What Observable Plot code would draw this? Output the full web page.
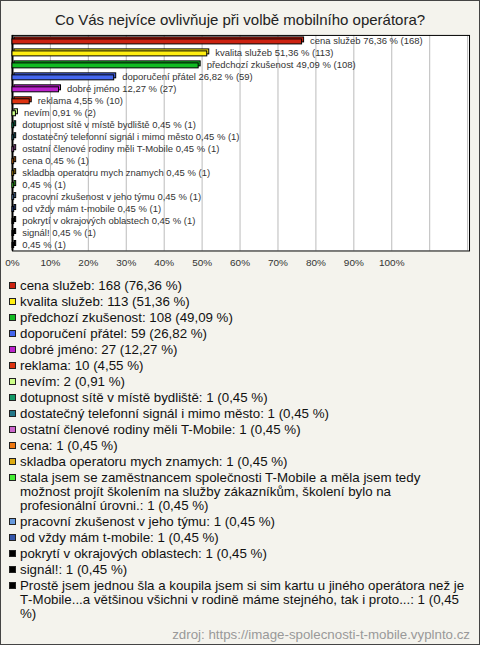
<!DOCTYPE html>
<html>
<head>
<meta charset="utf-8">
<script src="https://cdn.jsdelivr.net/npm/d3@7"></script>
<script src="https://cdn.jsdelivr.net/npm/@observablehq/plot@0.6"></script>
<style>
  html, body { margin: 0; padding: 0; background: #fff; }
  #card { position: relative; width: 478px; height: 643px; border: 1px solid #444; background: #f4f3ed;
          font-family: "Liberation Sans", Arial, sans-serif; color: #111; overflow: hidden; }
  #title { position: absolute; left: -1px; top: 10px; width: 480px; text-align: center; font-size: 15px; color: #222; }
  #chart { position: absolute; left: -1px; top: -1px; }
  #legend { position: absolute; left: 8px; top: 278px; width: 461px; font-size: 13.3px; line-height: 14px; }
  .item { display: flex; align-items: flex-start; margin-bottom: 2px; }
  .sw { flex: none; width: 5px; height: 5px; border: 1px solid #222; margin-top: 3px; margin-right: 4px; }
  #source { position: absolute; right: 9px; top: 626px; font-size: 13.3px; color: #999; }
</style>
</head>
<body>
<div id="card">
  <div id="chart"></div>
  <div id="title">Co Vás nejvíce ovlivňuje při volbě mobilního operátora?</div>
  <div id="legend"></div>
  <div id="source">zdroj: https://image-spolecnosti-t-mobile.vyplnto.cz</div>
</div>
<script>
// ---- data ----
const labels = [
  "cena služeb", "kvalita služeb", "předchozí zkušenost", "doporučení přátel", "dobré jméno",
  "reklama", "nevím", "dotupnost sítě v místě bydliště", "dostatečný telefonní signál i mimo město",
  "ostatní členové rodiny měli T-Mobile", "cena", "skladba operatoru mych znamych",
  "stala jsem se zaměstnancem společnosti T-Mobile a měla jsem tedy možnost projít školením na služby zákazníkům, školení bylo na profesionální úrovni.",
  "pracovní zkušenost v jeho týmu", "od vždy mám t-mobile", "pokrytí v okrajových oblastech", "signál!",
  "Prostě jsem jednou šla a koupila jsem si sim kartu u jiného operátora než je T\u2011Mobile...a většinou všichni v rodině máme stejného, tak i proto..."
];
const chartLabels = [
  "cena služeb", "kvalita služeb", "předchozí zkušenost", "doporučení přátel", "dobré jméno",
  "reklama", "nevím", "dotupnost sítě v místě bydliště", "dostatečný telefonní signál i mimo město",
  "ostatní členové rodiny měli T-Mobile", "cena", "skladba operatoru mych znamych", "",
  "pracovní zkušenost v jeho týmu", "od vždy mám t-mobile", "pokrytí v okrajových oblastech", "signál!", ""
];
const counts = [168, 113, 108, 59, 27, 10, 2, 1, 1, 1, 1, 1, 1, 1, 1, 1, 1, 1];
const percents = [76.36, 51.36, 49.09, 26.82, 12.27, 4.55, 0.91, 0.45, 0.45, 0.45, 0.45, 0.45, 0.45, 0.45, 0.45, 0.45, 0.45, 0.45];
const colors = [
  "#cc2211", "#ffee11", "#11bb22", "#4466ee", "#bb22cc", "#dd3311", "#ccff88", "#119966", "#227788",
  "#cc66cc", "#ee7711", "#ddaa11", "#44ee33", "#6699dd", "#3355aa", "#000000", "#000000", "#000000"
];
const xTicks = [0, 10, 20, 30, 40, 50, 60, 70, 80, 90, 100];
const gridLines = [10, 20, 30, 40, 50, 60, 70, 80, 90, 100, 110, 120];

const fmt = v => v.toFixed(2).replace(".", ",");
const rows = labels.map((l, i) => ({
  key: String(i), label: l, chartLabel: chartLabels[i], count: counts[i], pct: percents[i], color: colors[i],
  text: (chartLabels[i] ? chartLabels[i] + " " : "") + fmt(percents[i]) + " % (" + counts[i] + ")"
}));
const keys = rows.map(r => r.key);

const plot = Plot.plot({
  width: 480,
  height: 276,
  marginTop: 35,
  marginBottom: 25,
  marginLeft: 12,
  marginRight: 10,
  style: { fontFamily: "'Liberation Sans', Arial, sans-serif", background: "transparent", fontSize: "10px", color: "#333" },
  x: { domain: [0, 120.5] },
  y: { domain: keys, padding: 0, axis: null },
  marks: [
    Plot.frame({ fill: "white", stroke: "none" }),
    Plot.ruleX(gridLines, { stroke: "#bbb", strokeWidth: 1 }),
    Plot.frame({ stroke: "black", strokeWidth: 1 }),
    Plot.ruleX([0], { stroke: "black", strokeWidth: 2 }),
    // back (top) face of the 3D bar
    Plot.barX(rows, { x: "pct", y: "key", fill: "color", stroke: "black", strokeWidth: 1, insetTop: 4, insetBottom: 3, dx: 2, dy: -2 }),
    // front face
    Plot.barX(rows, { x: "pct", y: "key", fill: "color", stroke: "black", strokeWidth: 1, insetTop: 4, insetBottom: 3 }),
    Plot.text(rows, { x: "pct", y: "key", text: "text", textAnchor: "start", dx: 8, dy: -0.5, fill: "#333", fontSize: 9.5 }),
    Plot.axisX(xTicks, { tickSize: 0, tickPadding: 8, tickFormat: d => d + "%", label: null, fill: "#333", fontSize: 10 })
  ]
});
document.getElementById("chart").appendChild(plot);

const legend = document.getElementById("legend");
rows.forEach(r => {
  const item = document.createElement("div");
  item.className = "item";
  const sw = document.createElement("span");
  sw.className = "sw";
  sw.style.background = r.color;
  const t = document.createElement("span");
  t.textContent = r.label + ": " + r.count + " (" + fmt(r.pct) + " %)";
  item.appendChild(sw);
  item.appendChild(t);
  legend.appendChild(item);
});
</script>
</body>
</html>
